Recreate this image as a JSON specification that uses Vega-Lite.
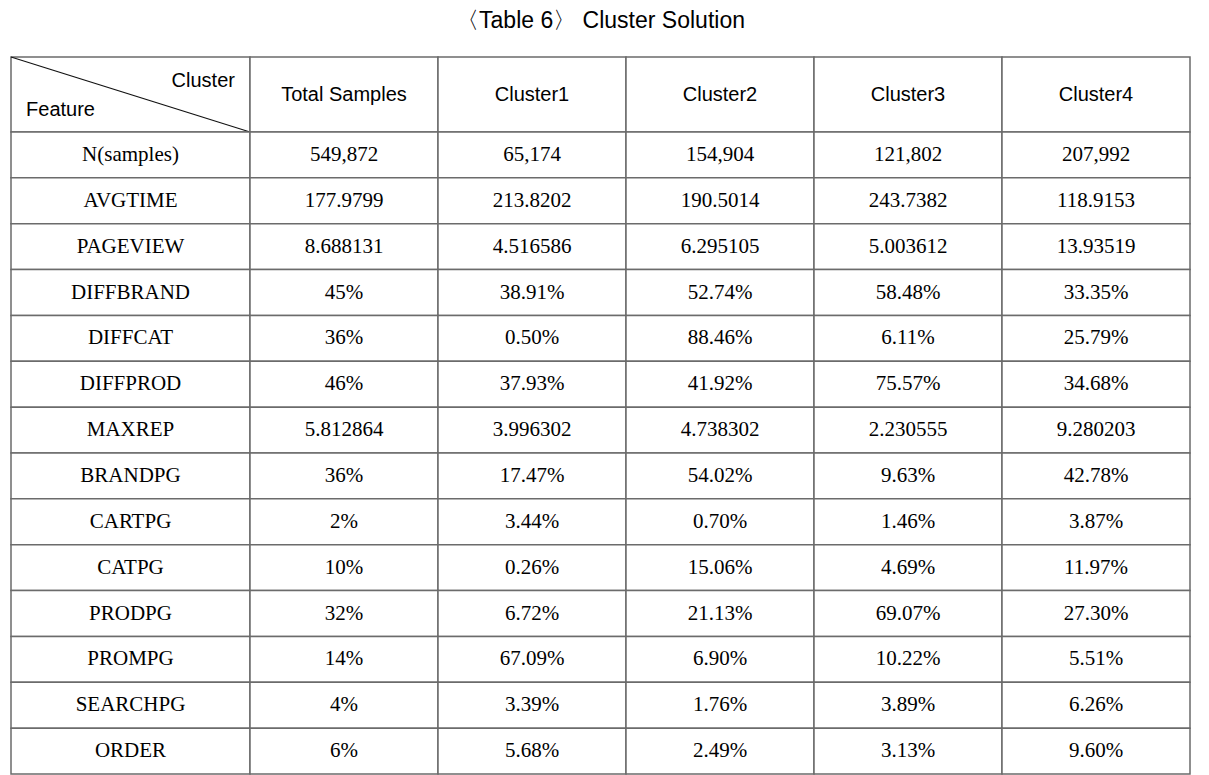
{
  "$schema": "https://vega.github.io/schema/vega-lite/v6.json",
  "padding": {"top": 10, "left": 10, "right": 0, "bottom": 0},
  "background": "white",
  "bounds": "flush",
  "title": {"text": "〈Table 6〉 Cluster Solution", "font": "Liberation Sans", "fontSize": 23, "fontWeight": "normal", "color": "#000", "anchor": "middle", "offset": 23},
  "datasets": {
    "rows": [
      {"feature": "N(samples)", "Total Samples": "549,872", "Cluster1": "65,174", "Cluster2": "154,904", "Cluster3": "121,802", "Cluster4": "207,992"},
      {"feature": "AVGTIME", "Total Samples": "177.9799", "Cluster1": "213.8202", "Cluster2": "190.5014", "Cluster3": "243.7382", "Cluster4": "118.9153"},
      {"feature": "PAGEVIEW", "Total Samples": "8.688131", "Cluster1": "4.516586", "Cluster2": "6.295105", "Cluster3": "5.003612", "Cluster4": "13.93519"},
      {"feature": "DIFFBRAND", "Total Samples": "45%", "Cluster1": "38.91%", "Cluster2": "52.74%", "Cluster3": "58.48%", "Cluster4": "33.35%"},
      {"feature": "DIFFCAT", "Total Samples": "36%", "Cluster1": "0.50%", "Cluster2": "88.46%", "Cluster3": "6.11%", "Cluster4": "25.79%"},
      {"feature": "DIFFPROD", "Total Samples": "46%", "Cluster1": "37.93%", "Cluster2": "41.92%", "Cluster3": "75.57%", "Cluster4": "34.68%"},
      {"feature": "MAXREP", "Total Samples": "5.812864", "Cluster1": "3.996302", "Cluster2": "4.738302", "Cluster3": "2.230555", "Cluster4": "9.280203"},
      {"feature": "BRANDPG", "Total Samples": "36%", "Cluster1": "17.47%", "Cluster2": "54.02%", "Cluster3": "9.63%", "Cluster4": "42.78%"},
      {"feature": "CARTPG", "Total Samples": "2%", "Cluster1": "3.44%", "Cluster2": "0.70%", "Cluster3": "1.46%", "Cluster4": "3.87%"},
      {"feature": "CATPG", "Total Samples": "10%", "Cluster1": "0.26%", "Cluster2": "15.06%", "Cluster3": "4.69%", "Cluster4": "11.97%"},
      {"feature": "PRODPG", "Total Samples": "32%", "Cluster1": "6.72%", "Cluster2": "21.13%", "Cluster3": "69.07%", "Cluster4": "27.30%"},
      {"feature": "PROMPG", "Total Samples": "14%", "Cluster1": "67.09%", "Cluster2": "6.90%", "Cluster3": "10.22%", "Cluster4": "5.51%"},
      {"feature": "SEARCHPG", "Total Samples": "4%", "Cluster1": "3.39%", "Cluster2": "1.76%", "Cluster3": "3.89%", "Cluster4": "6.26%"},
      {"feature": "ORDER", "Total Samples": "6%", "Cluster1": "5.68%", "Cluster2": "2.49%", "Cluster3": "3.13%", "Cluster4": "9.60%"}
    ]
  },
  "columns": 2,
  "spacing": 0,
  "concat": [
    {
      "width": 239,
      "height": 75,
      "data": {"values": [{}]},
      "layer": [
        {
          "mark": {"type": "rect", "fill": "white", "stroke": "#6b6b6b", "strokeWidth": 1.5},
          "encoding": {
            "x": {"datum": 0, "type": "quantitative", "scale": {"domain": [0, 1], "nice": false, "zero": false}, "axis": null},
            "x2": {"datum": 1},
            "y": {"datum": 0, "type": "quantitative", "scale": {"domain": [0, 1], "nice": false, "zero": false}, "axis": null},
            "y2": {"datum": 1}
          }
        },
        {
          "mark": {"type": "rule", "stroke": "#111", "strokeWidth": 1.2},
          "encoding": {
            "x": {"datum": 0, "type": "quantitative"},
            "x2": {"datum": 1},
            "y": {"datum": 1, "type": "quantitative"},
            "y2": {"datum": 0}
          }
        },
        {
          "mark": {"type": "text", "font": "Liberation Sans", "fontSize": 20, "align": "right", "baseline": "middle", "color": "#000"},
          "encoding": {
            "x": {"datum": 0.937, "type": "quantitative"},
            "y": {"datum": 0.68, "type": "quantitative"},
            "text": {"value": "Cluster"}
          }
        },
        {
          "mark": {"type": "text", "font": "Liberation Sans", "fontSize": 20, "align": "left", "baseline": "middle", "color": "#000"},
          "encoding": {
            "x": {"datum": 0.063, "type": "quantitative"},
            "y": {"datum": 0.3, "type": "quantitative"},
            "text": {"value": "Feature"}
          }
        }
      ]
    },
    {
      "width": 940,
      "height": 75,
      "data": {"name": "rows"},
      "transform": [
        {"filter": "datum.feature === 'N(samples)'"},
        {"fold": ["Total Samples", "Cluster1", "Cluster2", "Cluster3", "Cluster4"], "as": ["column", "value"]}
      ],
      "encoding": {
        "x": {"field": "column", "type": "nominal", "scale": {"domain": ["Total Samples", "Cluster1", "Cluster2", "Cluster3", "Cluster4"], "paddingInner": 0, "paddingOuter": 0}, "axis": null}
      },
      "layer": [
        {"mark": {"type": "rect", "fill": "white", "stroke": "#6b6b6b", "strokeWidth": 1.5}},
        {"mark": {"type": "text", "font": "Liberation Sans", "fontSize": 20, "baseline": "middle", "color": "#000"}, "encoding": {"text": {"field": "column"}}}
      ]
    },
    {
      "width": 239,
      "height": 642,
      "data": {"name": "rows"},
      "encoding": {
        "y": {"field": "feature", "type": "nominal", "sort": null, "scale": {"paddingInner": 0, "paddingOuter": 0}, "axis": null}
      },
      "layer": [
        {"mark": {"type": "rect", "fill": "white", "stroke": "#6b6b6b", "strokeWidth": 1.5}},
        {"mark": {"type": "text", "font": "Liberation Serif", "fontSize": 21, "baseline": "middle", "color": "#000"}, "encoding": {"text": {"field": "feature"}}}
      ]
    },
    {
      "width": 940,
      "height": 642,
      "data": {"name": "rows"},
      "transform": [
        {"fold": ["Total Samples", "Cluster1", "Cluster2", "Cluster3", "Cluster4"], "as": ["column", "value"]}
      ],
      "encoding": {
        "x": {"field": "column", "type": "nominal", "scale": {"domain": ["Total Samples", "Cluster1", "Cluster2", "Cluster3", "Cluster4"], "paddingInner": 0, "paddingOuter": 0}, "axis": null},
        "y": {"field": "feature", "type": "nominal", "sort": null, "scale": {"paddingInner": 0, "paddingOuter": 0}, "axis": null}
      },
      "layer": [
        {"mark": {"type": "rect", "fill": "white", "stroke": "#6b6b6b", "strokeWidth": 1.5}},
        {"mark": {"type": "text", "font": "Liberation Serif", "fontSize": 21, "baseline": "middle", "color": "#000"}, "encoding": {"text": {"field": "value"}}}
      ]
    }
  ],
  "config": {"view": {"stroke": null}}
}
